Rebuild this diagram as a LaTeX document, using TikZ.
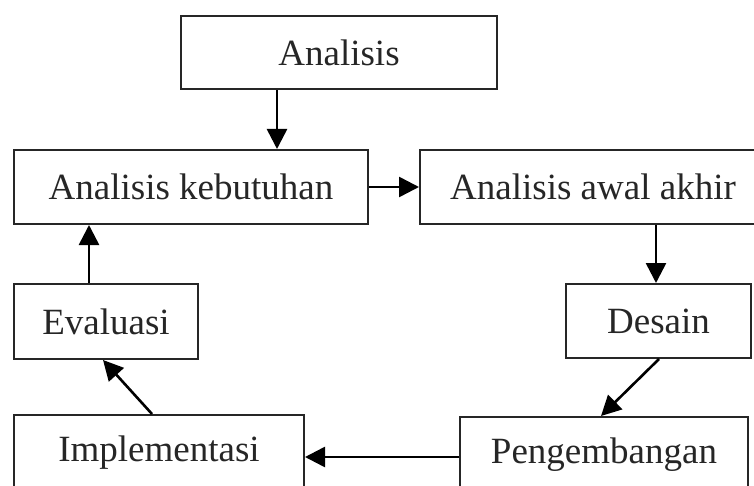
\documentclass[tikz,border=0pt]{standalone}
\usepackage{fontspec}
\setmainfont{Liberation Serif}
\usetikzlibrary{arrows.meta}
\begin{document}
\begin{tikzpicture}[x=1pt,y=-1pt,
  box/.style={draw=black!85,line width=2pt,rectangle,inner sep=0pt,
    font=\fontsize{37}{40}\selectfont,text=black!85},
  arr/.style={draw=black,line width=2.6pt,-{Triangle[length=20pt,width=20pt]}}]
\useasboundingbox (0,0) rectangle (754,486);
\fill[white] (0,0) rectangle (754,486);
\node[box,minimum width=316pt,minimum height=73.5pt] (ana) at (339,52.5) {Analisis};
\node[box,minimum width=354pt,minimum height=74pt] (keb) at (191,187) {Analisis kebutuhan};
\node[box,minimum width=346pt,minimum height=74pt] (awal) at (593,187) {Analisis awal akhir};
\node[box,minimum width=184pt,minimum height=75pt] (eval) at (106,321.5) {Evaluasi};
\node[box,minimum width=185pt,minimum height=74pt] (des) at (658.5,321) {Desain};
\node[box,minimum width=290pt,minimum height=75pt] (imp) at (159,452.5) {Implementasi};
\node[box,minimum width=288pt,minimum height=75pt] (pen) at (604,454.5) {Pengembangan};
\draw[arr] (277,0 |- ana.south) -- (277,0 |- keb.north);
\draw[arr] (keb.east) -- (awal.west);
\draw[arr] (656,0 |- awal.south) -- (656,0 |- des.north);
\draw[arr] (659,0 |- des.south) -- (601,0 |- pen.north);
\draw[arr] (pen.west |- 0,457) -- (imp.east |- 0,457);
\draw[arr] (152,0 |- imp.north) -- (103,0 |- eval.south);
\draw[arr] (89,0 |- eval.north) -- (89,0 |- keb.south);
\end{tikzpicture}
\end{document}
